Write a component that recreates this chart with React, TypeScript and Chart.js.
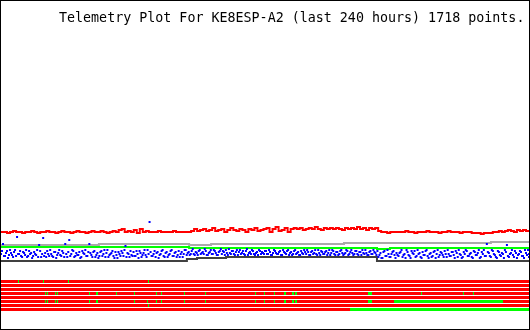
import { useEffect, useRef } from "react";
import { Chart, registerables } from "chart.js";
Chart.register(...registerables);

const TITLE = "Telemetry Plot For KE8ESP-A2 (last 240 hours) 1718 points.";
const HOURS = 240;

// Analog channel values (arbitrary telemetry units)
const redValues = [
  98, 98, 97, 98, 99, 98, 98, 97, 98, 98, 99, 98, 97, 98, 98, 99, 98, 98, 97, 98, 99, 98,
  98, 97, 98, 99, 98, 98, 97, 98, 99, 98, 98, 99, 98, 97, 98, 99, 98, 100, 101, 98, 99, 98,
  100, 97, 101, 98, 99, 98, 98, 98, 99, 98, 98, 98, 98, 99, 98, 98, 98, 98, 98, 99, 101, 99,
  100, 101, 99, 100, 102, 99, 100, 101, 98, 100, 102, 100, 99, 101, 100, 98, 101, 100, 102, 99, 100, 101,
  102, 98, 101, 103, 99, 100, 102, 98, 101, 102, 101, 102, 100, 101, 102, 101, 103, 101, 100, 102, 101, 102,
  101, 102, 101, 100, 102, 101, 102, 101, 103, 101, 102, 100, 102, 101, 102, 99, 98, 98, 97, 98, 98, 98,
  98, 98, 99, 98, 98, 97, 98, 98, 98, 99, 98, 98, 98, 97, 98, 98, 99, 98, 98, 98, 97, 98,
  98, 98, 97, 97, 97, 96, 97, 97, 97, 98, 98, 99, 98, 99, 100, 99, 98, 100, 99, 100, 99, 99,
];

const blueValues = [
  76, 86, 74, 79, 75, 77, 73, 80, 93, 76, 74, 78, 75, 73, 79, 77, 74, 76, 80, 85, 73, 92,
  77, 79, 74, 76, 73, 78, 75, 80, 74, 77, 86, 73, 90, 76, 79, 74, 75, 78, 73, 77, 80, 74,
  86, 75, 78, 73, 77, 74, 79, 76, 73, 80, 75, 77, 74, 78, 72, 76, 79, 74, 84, 77, 73, 75,
  78, 74, 76, 79, 73, 77, 75, 80, 108, 74, 76, 73, 78, 75, 79, 74, 77, 73, 76, 80, 74, 78,
  75, 73, 78, 76, 80, 77, 75, 79, 76, 78, 75, 80, 77, 76, 79, 75, 78, 76, 80, 77, 75, 79,
  76, 78, 80, 75, 77, 79, 76, 78, 75, 80, 77, 76, 79, 75, 78, 80, 76, 77, 75, 79, 78, 76,
  79, 76, 78, 75, 80, 77, 76, 79, 75, 78, 76, 80, 77, 75, 79, 76, 78, 75, 77, 80, 76, 78,
  75, 79, 77, 76, 80, 75, 78, 76, 79, 77, 75, 80, 76, 78, 75, 79, 77, 76, 80, 75, 78, 77,
  76, 79, 75, 78, 80, 76, 77, 75, 79, 76, 78, 75, 73, 77, 72, 79, 74, 76, 73, 78, 75, 77,
  74, 78, 73, 76, 80, 75, 72, 77, 79, 74, 76, 73, 78, 75, 80, 72, 77, 74, 79, 76, 73, 78,
  75, 79, 73, 76, 74, 78, 72, 77, 80, 75, 73, 76, 79, 74, 77, 72, 78, 75, 80, 73, 76, 74,
  86, 77, 73, 79, 75, 72, 78, 74, 76, 80, 85, 73, 77, 75, 79, 72, 76, 78, 74, 80, 75, 73,
];

// In-between samples of the same channel
const blueValues2 = [
  79, 74, 77, 72, 80, 75, 78, 74, 76, 79, 73, 77, 80, 74, 76, 72, 78, 75, 73, 79, 76, 74,
  73, 76, 80, 74, 78, 72, 77, 75, 79, 73, 76, 78, 74, 80, 73, 77, 75, 72, 79, 76, 74, 78,
  77, 73, 79, 75, 72, 78, 74, 80, 77, 73, 76, 79, 72, 75, 78, 74, 77, 80, 73, 76, 79, 74,
  74, 79, 72, 77, 75, 80, 73, 76, 78, 74, 79, 77, 72, 76, 80, 73, 78, 75, 79, 74, 77, 73,
  79, 76, 73, 80, 75, 78, 76, 81, 75, 77, 79, 76, 78, 81, 75, 77, 80, 76, 79, 75, 78, 81,
  79, 75, 77, 81, 76, 79, 75, 80, 78, 76, 79, 75, 81, 77, 76, 79, 75, 78, 80, 76, 77, 79,
  76, 80, 75, 77, 79, 76, 78, 75, 80, 77, 79, 75, 78, 76, 80, 77, 75, 79, 76, 78, 80, 75,
  78, 76, 80, 75, 77, 79, 76, 78, 75, 80, 77, 79, 75, 78, 76, 80, 75, 77, 79, 76, 80, 75,
  79, 76, 78, 75, 77, 80, 75, 78, 76, 80, 77, 79, 75, 72, 78, 74, 80, 73, 76, 79, 72, 75,
  77, 80, 75, 72, 78, 74, 79, 76, 73, 80, 77, 72, 75, 79, 74, 76, 73, 78, 72, 80, 75, 77,
  73, 76, 80, 74, 78, 75, 79, 73, 76, 72, 78, 80, 74, 76, 73, 79, 75, 77, 72, 78, 80, 74,
  78, 74, 80, 76, 73, 79, 75, 77, 72, 78, 74, 76, 80, 73, 77, 75, 79, 74, 72, 77, 80, 76,
];

const grayHours = [0, 44.5, 85.5, 95.5, 155.9, 222.7, 240];
const grayValues = [85, 86, 85, 86, 87, 88, 88];
const greenHours = [0, 85.5, 170.9, 176.8, 240];
const greenValues = [83, 82, 81, 82, 82];
const blackHours = [0, 84.5, 89.1, 102.3, 170.9, 240];
const blackValues = [69, 71, 72, 73, 69, 69];

// Digital channels: hour ranges where the bit is set
const bit1On = [[7.73, 8.18], [19.09, 19.55], [30.45, 30.91], [66.82, 67.27]];
const bit2On: number[][] = [];
const bit3On: number[][] = [];
const bit4On = [
  [20.0, 20.45], [20.91, 21.36], [24.55, 25.0], [25.45, 25.91], [40.0, 40.45], [43.18, 44.09],
  [52.27, 52.73], [60.45, 60.91], [70.45, 70.91], [72.73, 73.18], [83.18, 83.64], [92.73, 93.18],
  [115.45, 115.91], [119.55, 120.0], [124.09, 124.55], [128.64, 129.55], [132.27, 133.18],
  [133.64, 134.55], [166.82, 168.64], [190.91, 191.36], [210.0, 210.45], [214.55, 215.0],
];
const bit5On: number[][] = [];
const bit6On = [
  [20.0, 20.45], [20.91, 21.36], [24.55, 25.0], [25.45, 25.91], [40.0, 40.45], [43.18, 44.09],
  [60.45, 60.91], [66.36, 66.82], [70.45, 70.91], [72.73, 73.18], [83.18, 83.64], [92.73, 93.18],
  [115.45, 115.91], [119.55, 120.0], [124.09, 124.55], [128.64, 129.55], [132.27, 133.18],
  [133.64, 134.55], [166.82, 168.64], [178.64, 228.18],
];
const bit7On = [[66.82, 67.27]];
const bit8On = [[158.64, 240]];
const digitalChannels = [bit1On, bit2On, bit3On, bit4On, bit5On, bit6On, bit7On, bit8On];

const X_MIN = -1 / 2.2;
const X_MAX = HOURS + 1 / 2.2;

export default function App() {
  const ref = useRef<HTMLCanvasElement>(null);

  useEffect(() => {
    document.body.style.margin = "0";
    const canvas = ref.current!;
    const series = (vals: number[]) =>
      vals.map((v, i) => ({ x: (i * HOURS) / (vals.length - 1), y: v }));
    const steps = (hrs: number[], vals: number[]) => hrs.map((h, i) => ({ x: h, y: vals[i] }));
    const stepH = HOURS / (blueValues.length - 1);
    const bluePts = [
      ...blueValues.map((v, i) => ({ x: i * stepH, y: v })),
      ...blueValues2.map((v, i) => ({ x: Math.min(HOURS, (i + 0.5) * stepH), y: v })),
    ].sort((a, b) => a.x - b.x);

    const datasets: any[] = [];
    datasets.push({
      data: series(redValues), borderColor: "#ff0000", borderWidth: 2, stepped: true,
      pointRadius: 0, order: 1,
    });
    datasets.push({
      data: bluePts, showLine: false, pointStyle: "rect", pointRadius: 1.42,
      pointBorderWidth: 0, backgroundColor: "#0000ff", borderColor: "#0000ff", order: 2,
    });
    datasets.push({
      data: steps(greenHours, greenValues), borderColor: "#00ff00", borderWidth: 2, stepped: true,
      pointRadius: 0, order: 3,
    });
    datasets.push({
      data: steps(grayHours, grayValues), borderColor: "#aaaaaa", borderWidth: 2, stepped: true,
      pointRadius: 0, order: 4,
    });
    datasets.push({
      data: steps(blackHours, blackValues), borderColor: "#404040", borderWidth: 2, stepped: true,
      pointRadius: 0, order: 5,
    });
    digitalChannels.forEach((ranges, k) => {
      const level = 48.5 - 4 * k;
      datasets.push({
        data: [{ x: X_MIN, y: level }, { x: X_MAX, y: level }],
        borderColor: "#ff0000", borderWidth: 3, pointRadius: 0, stepped: true, order: 20,
      });
      const pts: any[] = [];
      ranges.forEach(([s, e]) => {
        pts.push({ x: s, y: level }, { x: e, y: level }, { x: e, y: null });
      });
      if (pts.length)
        datasets.push({
          data: pts, borderColor: "#00ff00", borderWidth: 3, pointRadius: 0, spanGaps: false,
          stepped: true, order: 10,
        });
    });

    const frame = {
      id: "frame",
      afterDraw(chart: any) {
        const ctx = chart.ctx;
        ctx.save();
        ctx.fillStyle = "#000";
        ctx.font = '13.33px "DejaVu Sans Mono", monospace';
        ctx.textBaseline = "alphabetic";
        ctx.fillText(TITLE, 59, 22);
        ctx.strokeStyle = "#000";
        ctx.lineWidth = 1;
        ctx.strokeRect(0.5, 0.5, chart.width - 1, chart.height - 1);
        ctx.restore();
      },
    };

    const chart = new Chart(canvas, {
      type: "line",
      data: { datasets },
      options: {
        animation: false,
        responsive: false,
        devicePixelRatio: 1,
        layout: { padding: 0, autoPadding: false },
        scales: {
          x: { type: "linear", display: false, min: X_MIN, max: X_MAX },
          y: { type: "linear", display: false, min: 0, max: 330 },
        },
        plugins: { legend: { display: false }, tooltip: { enabled: false }, title: { display: false } },
      },
      plugins: [frame],
    });
    return () => chart.destroy();
  }, []);

  return <canvas ref={ref} width={530} height={330} style={{ display: "block" }} />;
}
